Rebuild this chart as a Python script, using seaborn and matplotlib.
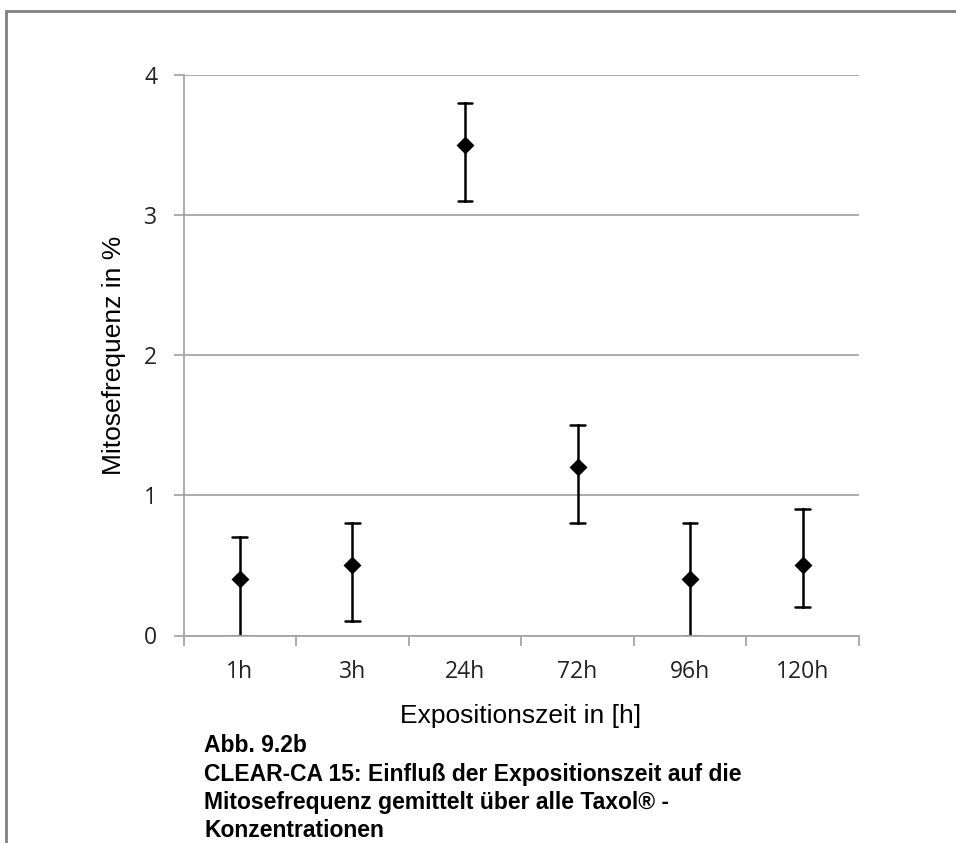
import numpy as np
import pandas as pd
import matplotlib
matplotlib.use("Agg")
import matplotlib.pyplot as plt
from matplotlib.lines import Line2D
import seaborn as sns

categories = ["1h", "3h", "24h", "72h", "96h", "120h"]
means = [0.4, 0.5, 3.5, 1.2, 0.4, 0.5]
lows = [0.0, 0.1, 3.1, 0.8, 0.0, 0.2]
highs = [0.7, 0.8, 3.8, 1.5, 0.8, 0.9]

rows = []
for c, m, lo, hi in zip(categories, means, lows, highs):
    for v in (lo, m, hi):
        rows.append({"zeit": c, "wert": v})
df = pd.DataFrame(rows)

sns.set_theme(style="white")
plt.rcParams["font.family"] = ["Open Sans", "DejaVu Sans"]

W, H = 956, 843
fig = plt.figure(figsize=(W / 100, H / 100), dpi=100)
L, R, T, B = 183.5, 859, 74.7, 635.5
ax = fig.add_axes([L / W, 1 - B / H, (R - L) / W, (B - T) / H])

sns.pointplot(data=df, x="zeit", y="wert", order=categories,
              estimator=np.median,
              errorbar=lambda v: (v.min(), v.max()),
              linestyle="none", marker="D", markersize=7,
              color="black", capsize=0.13, err_kws={"linewidth": 1.8},
              ax=ax)

ax.set_xlim(-0.5, 5.5)
ax.set_ylim(0, 4)
ax.set_yticks([0, 1, 2, 3, 4])
ax.yaxis.grid(True, color="#A6A6A6", linewidth=1.3)
ax.set_axisbelow(True)
for s in ["top", "right"]:
    ax.spines[s].set_visible(False)
for s in ["left", "bottom"]:
    ax.spines[s].set_color("#A6A6A6")
    ax.spines[s].set_linewidth(1.3)

ax.set_xticks(range(len(categories)))
ax.set_xticklabels(categories)
ax.set_xticks(np.arange(-0.5, 6.0, 1.0), minor=True)
ax.tick_params(axis="x", which="major", length=0, pad=18, labelsize=16.5, colors="#222222")
ax.tick_params(axis="x", which="minor", length=7, width=1.3, color="#A6A6A6", direction="out", bottom=True)
ax.tick_params(axis="y", which="major", length=7, width=1.3, color="#A6A6A6", direction="out",
               left=True, pad=12, labelsize=16.5, labelcolor="#222222")

ax.set_xlabel("")
ax.set_ylabel("")
lab_font = ["Liberation Sans", "DejaVu Sans"]
fig.text(521 / W, 1 - 723 / H, "Expositionszeit in [h]", family=lab_font,
         fontsize=19, ha="center", va="baseline", color="black")
fig.text(114 / W, 1 - 355 / H, "Mitosefrequenz in %", family=lab_font,
         fontsize=19, ha="center", va="center", rotation=90, color="black")

caption = ["Abb. 9.2b",
           "CLEAR-CA 15: Einfluß der Expositionszeit auf die",
           "Mitosefrequenz gemittelt über alle Taxol® -",
           "Konzentrationen"]
baselines = [752, 780.5, 808.5, 837]
for line, yb in zip(caption, baselines):
    fig.text(204 / W, 1 - yb / H, line,
             family=lab_font, fontweight="bold",
             fontsize=16.5, va="baseline", ha="left", color="black")

# frame lines of the page
fig.add_artist(Line2D([5.5 / W, 1.0], [1 - 10.5 / H, 1 - 10.5 / H],
                      transform=fig.transFigure, color="#808080", linewidth=2))
fig.add_artist(Line2D([5.5 / W, 5.5 / W], [0, 1 - 10.5 / H],
                      transform=fig.transFigure, color="#808080", linewidth=2))

fig.savefig("out.png", dpi=100)
